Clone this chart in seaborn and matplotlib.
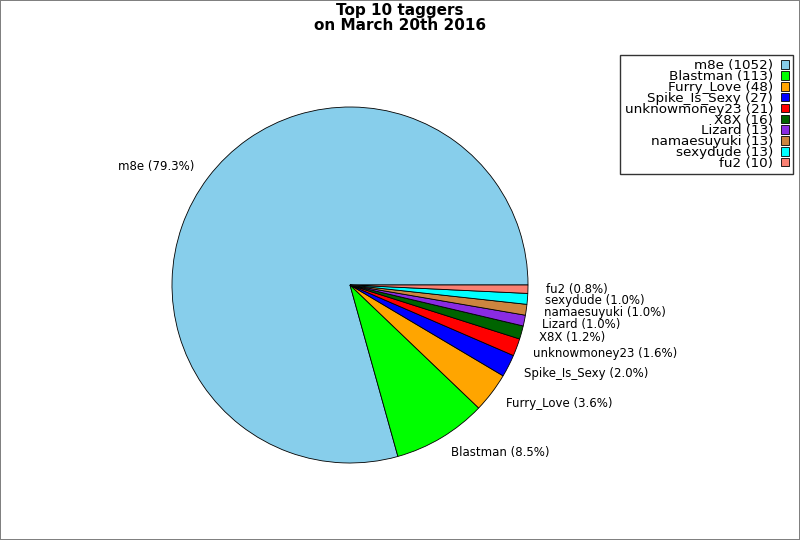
import matplotlib
matplotlib.use('Agg')
import matplotlib.pyplot as plt
import seaborn as sns

# Tagger counts
taggers = ['m8e', 'Blastman', 'Furry_Love', 'Spike_Is_Sexy', 'unknowmoney23',
           'X8X', 'Lizard', 'namaesuyuki', 'sexydude', 'fu2']
counts = [1052, 113, 48, 27, 21, 16, 13, 13, 13, 10]
colors = ['skyblue', 'lime', 'orange', 'blue', 'red', 'darkgreen',
          'blueviolet', 'peru', 'cyan', 'salmon']

sns.set_style('white')
plt.rcParams['font.family'] = ['DejaVu Sans']
plt.rcParams['text.color'] = 'black'

total = sum(counts)
pie_labels = [f'{t} ({c / total * 100:.1f}%)' for t, c in zip(taggers, counts)]
legend_labels = [f'{t} ({c})' for t, c in zip(taggers, counts)]

fig = plt.figure(figsize=(8, 5.4), dpi=100, edgecolor='gray', linewidth=1.2)
ax = fig.add_axes([127.5 / 800, 32.5 / 540, 445 / 800, 445 / 540])

wedges, texts = ax.pie(counts, labels=pie_labels, colors=colors, startangle=0,
                       labeldistance=1.1,
                       wedgeprops={'edgecolor': 'black', 'linewidth': 0.6},
                       textprops={'fontsize': 8.5, 'color': 'black'})
ax.set_aspect('equal')

fig.suptitle('Top 10 taggers\non March 20th 2016', fontsize=11, fontweight='bold',
             y=0.995, linespacing=1.0, color='black')

leg = fig.legend(wedges, legend_labels, loc='upper right',
                 bbox_to_anchor=(793 / 800, 1 - 55 / 540), markerfirst=False,
                 fancybox=False, fontsize=9.7, handlelength=0.55, handleheight=0.6,
                 labelspacing=-0.16, borderaxespad=0, handletextpad=0.6,
                 borderpad=0.32)
leg.get_frame().set_edgecolor('black')
leg.get_frame().set_linewidth(1)
for t in leg.get_texts():
    t.set_color('black')

fig.savefig('out.png', dpi=100, edgecolor=fig.get_edgecolor())
